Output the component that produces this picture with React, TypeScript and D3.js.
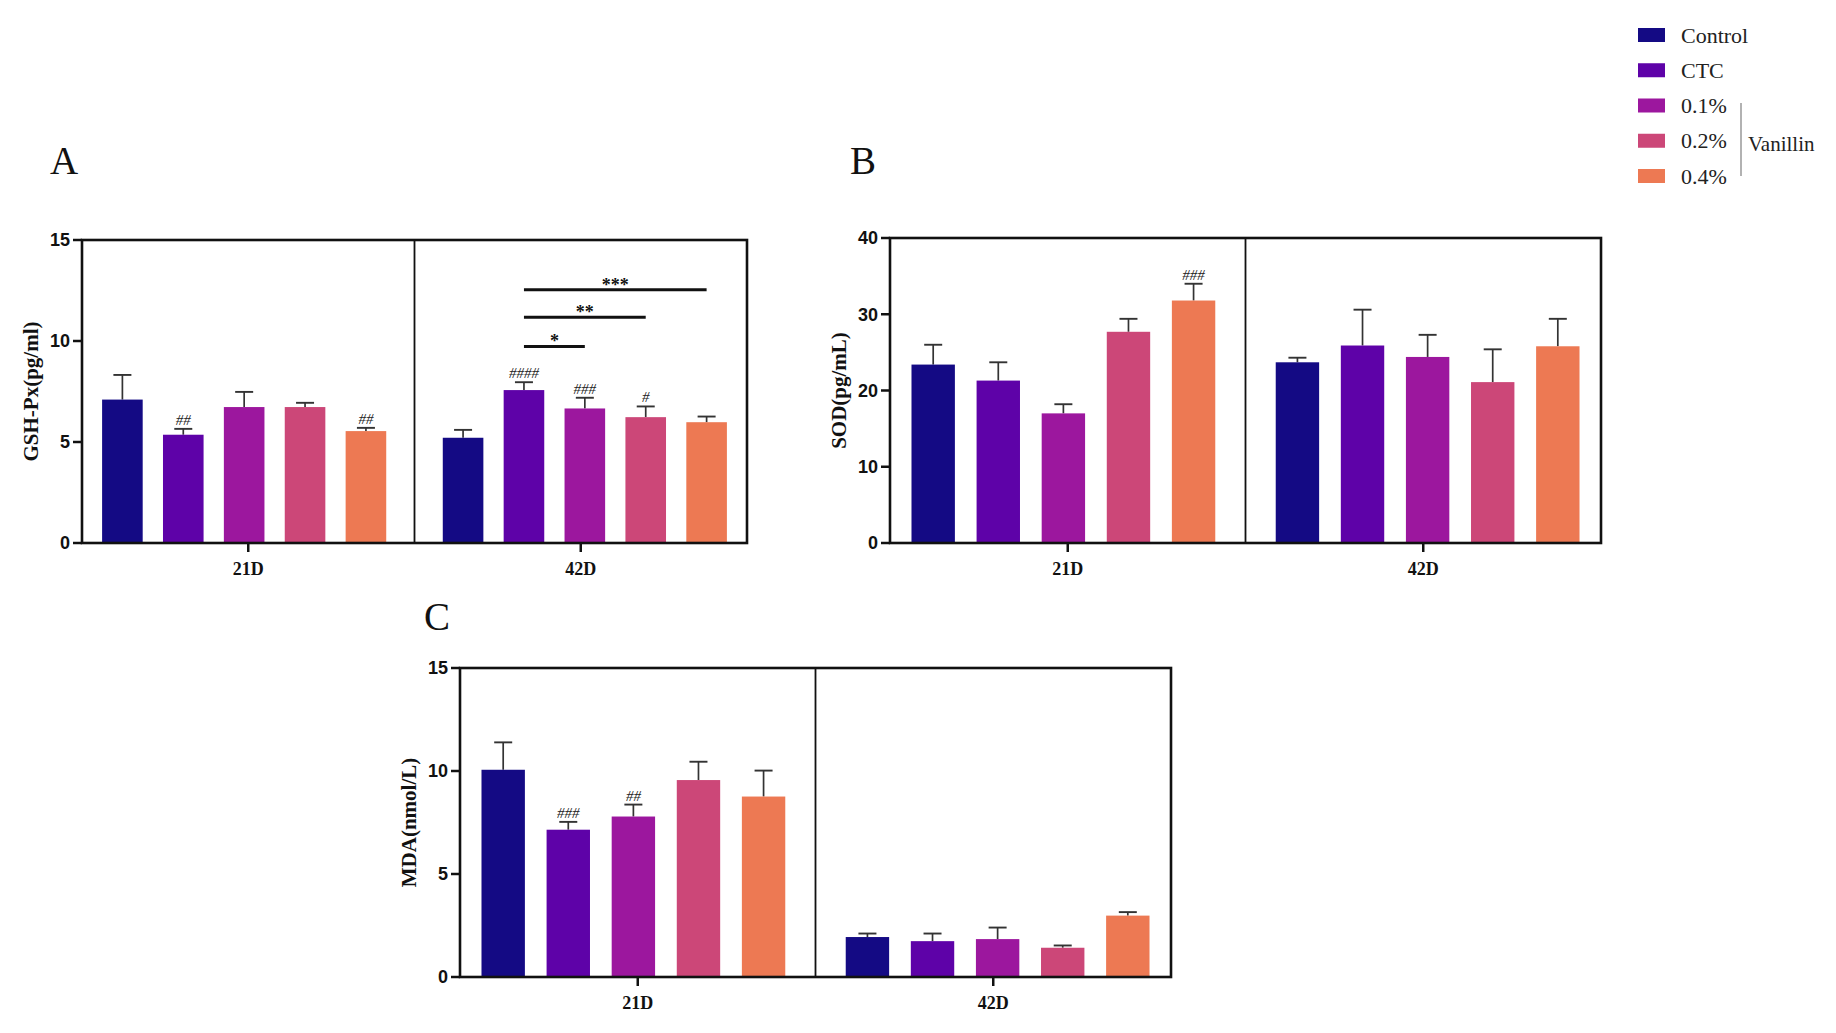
import React from "react";
import * as d3 from "d3";

// Sampling days and treatment groups
const groups = ["21D", "42D"];
const treatments = ["Control", "CTC", "0.1%", "0.2%", "0.4%"];
const treatmentColors = ["#140a84", "#5e02a8", "#9c179e", "#cc4778", "#ed7953"];

// GSH-Px (pg/ml): mean and SEM per day
const gshMean21 = [7.1, 5.36, 6.73, 6.73, 5.54];
const gshErr21 = [1.22, 0.29, 0.75, 0.21, 0.16];
const gshMean42 = [5.21, 7.57, 6.66, 6.23, 5.98];
const gshErr42 = [0.39, 0.39, 0.53, 0.53, 0.28];
const gshMarks21 = ["", "##", "", "", "##"];
const gshMarks42 = ["", "####", "###", "#", ""];
const gshTicks = [0, 5, 10, 15];

// SOD (pg/mL)
const sodMean21 = [23.4, 21.3, 17.0, 27.7, 31.8];
const sodErr21 = [2.6, 2.4, 1.2, 1.7, 2.2];
const sodMean42 = [23.7, 25.9, 24.4, 21.1, 25.8];
const sodErr42 = [0.6, 4.7, 2.9, 4.3, 3.6];
const sodMarks21 = ["", "", "", "", "###"];
const sodMarks42 = ["", "", "", "", ""];
const sodTicks = [0, 10, 20, 30, 40];

// MDA (nmol/L)
const mdaMean21 = [10.06, 7.15, 7.79, 9.56, 8.76];
const mdaErr21 = [1.33, 0.38, 0.58, 0.89, 1.26];
const mdaMean42 = [1.94, 1.74, 1.84, 1.42, 2.98];
const mdaErr42 = [0.17, 0.37, 0.56, 0.11, 0.17];
const mdaMarks21 = ["", "###", "##", "", ""];
const mdaMarks42 = ["", "", "", "", ""];
const mdaTicks = [0, 5, 10, 15];

// Pairwise comparisons within 42D for GSH-Px (CTC vs vanillin doses)
const gshBrackets42 = [
  { from: "CTC", to: "0.1%", level: 9.73, label: "*" },
  { from: "CTC", to: "0.2%", level: 11.18, label: "**" },
  { from: "CTC", to: "0.4%", level: 12.54, label: "***" },
];

const SERIF = "'Liberation Serif', 'Times New Roman', serif";
const SANS = "'Liberation Sans', Arial, sans-serif";

type Bracket = { from: string; to: string; level: number; label: string };

type PanelProps = {
  letter: string;
  letterX: number;
  letterY: number;
  left: number;
  right: number;
  top: number;
  bottom: number;
  yMax: number;
  ticks: number[];
  yLabel: string;
  means: number[][];
  errs: number[][];
  marks: string[][];
  brackets?: Bracket[][];
};

function Panel(p: PanelProps) {
  // bar clusters: small outer margin, wider gap between the two days
  const x0 = d3
    .scaleBand<string>()
    .domain(groups)
    .range([p.left, p.right])
    .paddingInner(0.166)
    .paddingOuter(0.059);
  const x1 = d3
    .scaleBand<string>()
    .domain(treatments)
    .range([0, x0.bandwidth()])
    .paddingInner(1 / 3)
    .paddingOuter(0);
  // each day occupies half of the frame; its tick sits at the half's centre
  const halves = d3.scaleBand<string>().domain(groups).range([p.left, p.right]).padding(0);
  const y = d3.scaleLinear().domain([0, p.yMax]).range([p.bottom, p.top]);
  const bw = x1.bandwidth();
  const capHalf = 9;
  const dividerX = halves(groups[1]) as number;
  const midY = (p.top + p.bottom) / 2;

  return (
    <g>
      <text x={p.letterX} y={p.letterY} fontFamily={SERIF} fontSize={39} fill="#111">
        {p.letter}
      </text>

      {groups.map((g, gi) => {
        const tickX = (halves(g) as number) + halves.bandwidth() / 2;
        return (
          <g key={g}>
            {treatments.map((t, ti) => {
              const bx = (x0(g) as number) + (x1(t) as number);
              const cx = bx + bw / 2;
              const m = p.means[gi][ti];
              const e = p.errs[gi][ti];
              const top = y(m + e);
              return (
                <g key={t}>
                  <line x1={cx} x2={cx} y1={y(m)} y2={top} stroke="#333" strokeWidth={1.7} />
                  <line
                    x1={cx - capHalf}
                    x2={cx + capHalf}
                    y1={top}
                    y2={top}
                    stroke="#333"
                    strokeWidth={1.9}
                  />
                  <rect x={bx} y={y(m)} width={bw} height={y(0) - y(m)} fill={treatmentColors[ti]} />
                  {p.marks[gi][ti] ? (
                    <text
                      x={cx}
                      y={top - 4}
                      textAnchor="middle"
                      fontFamily={SERIF}
                      fontStyle="italic"
                      fontSize={15}
                      fill="#222"
                    >
                      {p.marks[gi][ti]}
                    </text>
                  ) : null}
                </g>
              );
            })}
            {(p.brackets?.[gi] ?? []).map((b) => {
              const xa = (x0(g) as number) + (x1(b.from) as number) + bw / 2;
              const xb = (x0(g) as number) + (x1(b.to) as number) + bw / 2;
              const ly = y(b.level);
              return (
                <g key={b.label}>
                  <line x1={xa} x2={xb} y1={ly} y2={ly} stroke="#111" strokeWidth={3} />
                  <text
                    x={(xa + xb) / 2}
                    y={ly + 1}
                    textAnchor="middle"
                    fontFamily={SERIF}
                    fontWeight="bold"
                    fontSize={18}
                    fill="#111"
                  >
                    {b.label}
                  </text>
                </g>
              );
            })}
            <line
              x1={tickX}
              x2={tickX}
              y1={p.bottom}
              y2={p.bottom + 9}
              stroke="#111"
              strokeWidth={2.5}
            />
            <text
              x={tickX}
              y={p.bottom + 32}
              textAnchor="middle"
              fontFamily={SERIF}
              fontWeight="bold"
              fontSize={18}
              fill="#111"
            >
              {g}
            </text>
          </g>
        );
      })}

      <line x1={dividerX} x2={dividerX} y1={p.top} y2={p.bottom} stroke="#111" strokeWidth={1.8} />
      <rect
        x={p.left}
        y={p.top}
        width={p.right - p.left}
        height={p.bottom - p.top}
        fill="none"
        stroke="#111"
        strokeWidth={2.6}
      />

      {p.ticks.map((t) => (
        <g key={t}>
          <line x1={p.left - 9} x2={p.left} y1={y(t)} y2={y(t)} stroke="#111" strokeWidth={2.5} />
          <text
            x={p.left - 12}
            y={y(t)}
            dy="0.35em"
            textAnchor="end"
            fontFamily={SANS}
            fontWeight="bold"
            fontSize={18}
            fill="#111"
          >
            {t}
          </text>
        </g>
      ))}

      <text
        transform={`translate(${p.left - 51},${midY}) rotate(-90)`}
        textAnchor="middle"
        dy="0.35em"
        fontFamily={SERIF}
        fontWeight="bold"
        fontSize={21}
        fill="#111"
      >
        {p.yLabel}
      </text>
    </g>
  );
}

function Legend() {
  const rowY = d3.scalePoint<string>().domain(treatments).range([35, 176]);
  return (
    <g>
      {treatments.map((t, i) => (
        <g key={t}>
          <rect x={1638} y={(rowY(t) as number) - 7} width={27} height={14} fill={treatmentColors[i]} />
          <text
            x={1681}
            y={rowY(t) as number}
            dy="0.35em"
            fontFamily={SERIF}
            fontSize={22}
            fill="#222"
          >
            {t}
          </text>
        </g>
      ))}
      <line x1={1741} x2={1741} y1={103} y2={176} stroke="#999" strokeWidth={1.5} />
      <text x={1748} y={144} dy="0.35em" fontFamily={SERIF} fontSize={21} fill="#222">
        Vanillin
      </text>
    </g>
  );
}

export default function App() {
  return (
    <svg
      width={1836}
      height={1033}
      style={{ position: "absolute", left: 0, top: 0, background: "#fff" }}
    >
      <rect width={1836} height={1033} fill="#fff" />
      <Panel
        letter="A"
        letterX={50}
        letterY={174}
        left={82}
        right={747}
        top={240}
        bottom={543}
        yMax={15}
        ticks={gshTicks}
        yLabel="GSH-Px(pg/ml)"
        means={[gshMean21, gshMean42]}
        errs={[gshErr21, gshErr42]}
        marks={[gshMarks21, gshMarks42]}
        brackets={[[], gshBrackets42]}
      />
      <Panel
        letter="B"
        letterX={850}
        letterY={174}
        left={890}
        right={1601}
        top={238}
        bottom={543}
        yMax={40}
        ticks={sodTicks}
        yLabel="SOD(pg/mL)"
        means={[sodMean21, sodMean42]}
        errs={[sodErr21, sodErr42]}
        marks={[sodMarks21, sodMarks42]}
      />
      <Panel
        letter="C"
        letterX={424}
        letterY={630}
        left={460}
        right={1171}
        top={668}
        bottom={977}
        yMax={15}
        ticks={mdaTicks}
        yLabel="MDA(nmol/L)"
        means={[mdaMean21, mdaMean42]}
        errs={[mdaErr21, mdaErr42]}
        marks={[mdaMarks21, mdaMarks42]}
      />
      <Legend />
    </svg>
  );
}
